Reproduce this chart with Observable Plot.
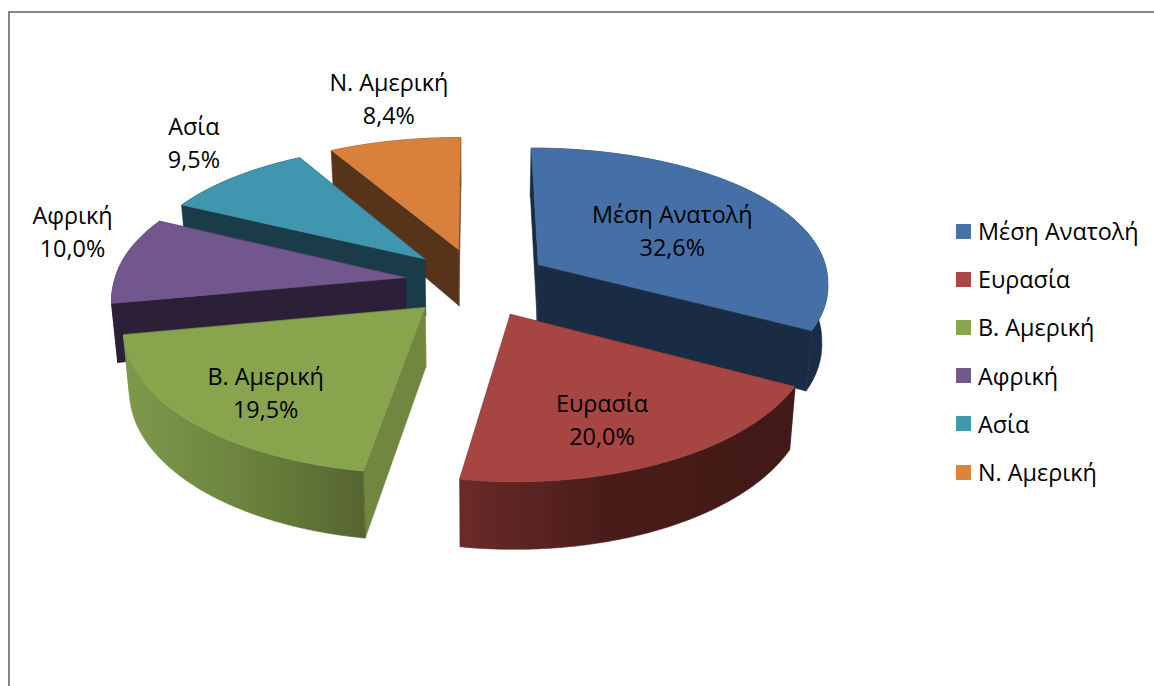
<!DOCTYPE html>
<html lang="el">
<head>
<meta charset="utf-8">
<script src="https://cdn.jsdelivr.net/npm/d3@7"></script>
<script src="https://cdn.jsdelivr.net/npm/@observablehq/plot@0.6"></script>
<style>
html,body{margin:0;padding:0;background:#fff;overflow:hidden;width:1154px;height:686px}
#frame{position:absolute;left:8px;top:11px;width:1300px;height:900px;border:2px solid #868686;box-sizing:border-box}
#chart{position:absolute;left:0;top:0}
#legend{position:absolute;left:956px;top:207px;font:23.4px "Open Sans",sans-serif;color:#000}
#legend div{height:48.2px;display:flex;align-items:center;white-space:nowrap}
#legend i{display:block;width:15px;height:15px;margin-right:7px}
</style>
</head>
<body>
<div id="frame"></div>
<div id="chart"></div>
<div id="legend"></div>
<script>
// Data
const categories = ["Μέση Ανατολή","Ευρασία","Β. Αμερική","Αφρική","Ασία","Ν. Αμερική"];
const shares = [32.6,20.0,19.5,10.0,9.5,8.4];
const shareLabels = ["32,6%","20,0%","19,5%","10,0%","9,5%","8,4%"];

// Styles
const topColors = ["#4570a7","#a64542","#88a44c","#71578e","#4096ae","#d9813c"];
const legendColors = ["#4573a7","#aa4643","#89a54e","#71588f","#4198af","#db843d"];
const wallColors = ["#1a2c44","#421917","#71873f","#2c2038","#1a3c48","#57331a"];
// Outer walls: a left-to-right gradient where the reference shows one
const arcFills = ["#1a2c44","url(#wall-eurasia)","url(#wall-namerica)","#2c2038","#1a3c48","#57331a"];
const gradients = [
  {id: "wall-eurasia", stops: [[0,"#6b2a28"],[0.45,"#481c19"],[1,"#421917"]]},
  {id: "wall-namerica", stops: [[0,"#7e994b"],[0.5,"#6b833d"],[1,"#566530"]]}
];

// Projection of the tilted, exploded pie
const cx = 476.5, cy = 281.7, Rx = 291, Ry = 140;
const persp = 0.135, perspBackX = 0.11, explode = 0.25, depth = 58, taper = 0.017;
function project(X, Y, down) {
  const s = 1 + persp * Y;
  const sx = 1 + (Y < 0 ? perspBackX : persp) * Y;
  const x = cx + Rx * X * sx, y = cy + Ry * Y * s;
  return down ? [cx + (x - cx) * (1 - taper), y + depth * s] : [x, y];
}
const total = d3.sum(shares);
const cum = d3.cumsum(shares);
const slices = categories.map((name, i) => {
  const a0 = (i ? cum[i - 1] : 0) / total * 2 * Math.PI;
  const a1 = cum[i] / total * 2 * Math.PI;
  const b = (a0 + a1) / 2;
  return {i, name, a0, a1, b, ox: explode * Math.sin(b), oy: -explode * Math.cos(b)};
});
const rim = (s, a, down) => project(s.ox + Math.sin(a), s.oy - Math.cos(a), down);
const apex = (s, down) => project(s.ox, s.oy, down);

// Polygons, in painter's order
const polys = [];
let nextId = 0;
function addPoly(pts, color) {
  const id = nextId++;
  for (const [x, y] of pts) polys.push({id, x, y, color});
}
const paintOrder = [5, 4, 3, 2, 0, 1];
for (const i of paintOrder) {
  const s = slices[i];
  const wall = wallColors[i];
  addPoly([apex(s,false), rim(s,s.a0,false), rim(s,s.a0,true), apex(s,true)], wall);
  addPoly([apex(s,false), rim(s,s.a1,false), rim(s,s.a1,true), apex(s,true)], wall);
  const angles = d3.range(0, 121).map(k => s.a0 + (s.a1 - s.a0) * k / 120);
  addPoly([...angles.map(a => rim(s,a,false)), ...angles.slice().reverse().map(a => rim(s,a,true))], arcFills[i]);
  addPoly([apex(s,false), ...angles.map(a => rim(s,a,false))], topColors[i]);
}

// Labels sit along each slice's bisector
const labelRadius = [0.57, 0.68, 0.70, 1.20, 1.25, 1.20];
const labelDx = [1, -10, 0, 5, 2, 5];
const labelDy = [3, 6, 5, -26, -18, -26];
const labels = slices.map(s => {
  const r = labelRadius[s.i];
  const [x, y] = project(s.ox + r * Math.sin(s.b), s.oy - r * Math.cos(s.b), false);
  return {x: x + labelDx[s.i], y: y + labelDy[s.i], text: s.name + "\n" + shareLabels[s.i]};
});

const chart = Plot.plot({
  width: 1154, height: 686,
  marginTop: 0, marginRight: 0, marginBottom: 0, marginLeft: 0,
  x: {domain: [0, 1154], range: [0, 1154], axis: null},
  y: {domain: [0, 686], range: [0, 686], axis: null},
  color: {type: "identity"},
  style: {background: "transparent"},
  marks: [
    () => {
      const defs = d3.create("svg:defs");
      for (const g of gradients) {
        const lg = defs.append("linearGradient").attr("id", g.id);
        for (const [o, c] of g.stops) lg.append("stop").attr("offset", o).attr("stop-color", c);
      }
      return defs.node();
    },
    Plot.line(polys, {x: "x", y: "y", z: "id", fill: "color", stroke: "color", strokeWidth: 0.6, curve: "linear-closed"}),
    Plot.text(labels, {x: "x", y: "y", text: "text", fontSize: 23.4, fontFamily: "Open Sans", fill: "#000", lineHeight: 1.41, textAnchor: "middle"})
  ]
});
document.getElementById("chart").append(chart);

const legend = document.getElementById("legend");
categories.forEach((name, i) => {
  const row = document.createElement("div");
  const sw = document.createElement("i");
  sw.style.background = legendColors[i];
  row.append(sw, document.createTextNode(name));
  legend.append(row);
});
</script>
</body>
</html>
